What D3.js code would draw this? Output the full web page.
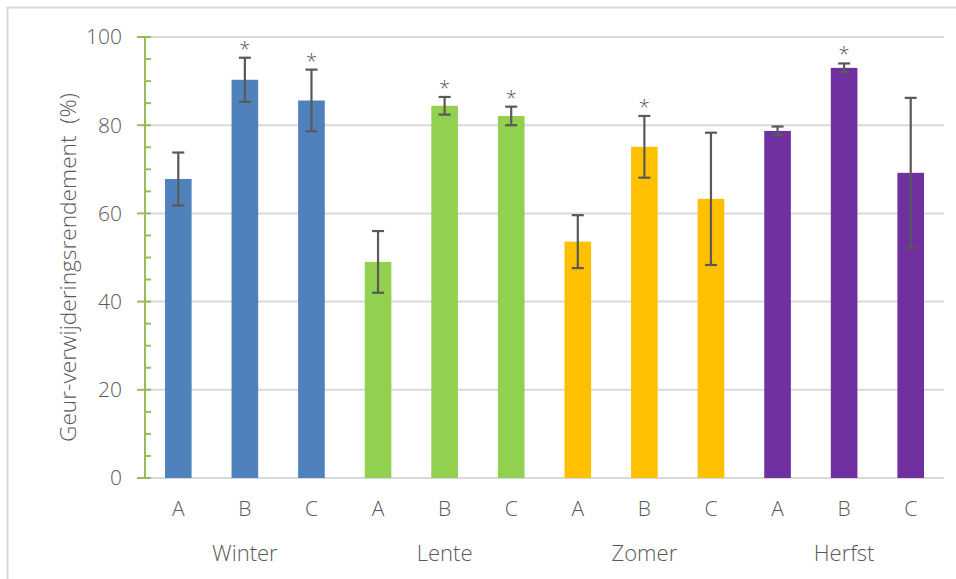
<!DOCTYPE html>
<html>
<head>
<meta charset="utf-8">
<script src="https://cdn.jsdelivr.net/npm/d3@7"></script>
<style>
  html, body { margin: 0; padding: 0; background: #fff; }
  svg { display: block; font-family: "Open Sans", "Noto Sans", sans-serif; }
</style>
</head>
<body>
<svg id="chart" width="956" height="579"></svg>
<script>
// Seasons and methods
const seasons = ["Winter", "Lente", "Zomer", "Herfst"];
const methods = ["A", "B", "C"];
const seasonColors = ["#4f81bd", "#92d050", "#ffc000", "#7030a0"];

// Mean odour removal efficiency (%) per season, methods A-B-C
const winterValues = [67.8, 90.3, 85.6];
const lenteValues  = [49.0, 84.4, 82.1];
const zomerValues  = [53.6, 75.1, 63.3];
const herfstValues = [78.7, 93.0, 69.2];

// Error bar half-widths (%)
const winterErr = [6.0, 5.0, 7.0];
const lenteErr  = [7.0, 2.0, 2.1];
const zomerErr  = [6.0, 7.0, 15.0];
const herfstErr = [1.0, 1.0, 17.0];

// Significance marks
const winterSig = [false, true, true];
const lenteSig  = [false, true, true];
const zomerSig  = [false, true, false];
const herfstSig = [false, true, false];

const yTicks = [0, 20, 40, 60, 80, 100];
const yMinorTicks = d3.range(0, 101, 5);
const yTitle = "Geur-verwijderingsrendement  (%)";

const allValues = [winterValues, lenteValues, zomerValues, herfstValues];
const allErr = [winterErr, lenteErr, zomerErr, herfstErr];
const allSig = [winterSig, lenteSig, zomerSig, herfstSig];

const rows = [];
seasons.forEach((s, si) => {
  methods.forEach((m, mi) => {
    rows.push({
      key: s + "-" + m, season: s, si, method: m,
      value: allValues[si][mi], err: allErr[si][mi], sig: allSig[si][mi]
    });
  });
});

const svg = d3.select("#chart");
const W = 956, H = 579;
const plot = { left: 145, right: 944, top: 37, bottom: 478 };

const textColor = "#595959";

// Outer frame
svg.append("rect")
  .attr("x", 7.5).attr("y", 7.5)
  .attr("width", W + 10).attr("height", H + 10)
  .attr("fill", "none").attr("stroke", "#d9d9d9").attr("stroke-width", 2);

const x = d3.scaleBand()
  .domain(rows.map(d => d.key))
  .range([plot.left, plot.right])
  .paddingInner(0.6).paddingOuter(0.3);

const y = d3.scaleLinear().domain([0, 100]).range([plot.bottom, plot.top]);

// Gridlines
svg.append("g")
  .selectAll("line")
  .data(yTicks)
  .join("line")
  .attr("x1", plot.left).attr("x2", plot.right)
  .attr("y1", d => y(d)).attr("y2", d => y(d))
  .attr("stroke", "#d9d9d9").attr("stroke-width", 2);

// Bars
svg.append("g")
  .selectAll("rect")
  .data(rows)
  .join("rect")
  .attr("x", d => x(d.key))
  .attr("width", x.bandwidth())
  .attr("y", d => y(d.value))
  .attr("height", d => y(0) - y(d.value))
  .attr("fill", d => seasonColors[d.si]);

// Error bars
const eb = svg.append("g").attr("stroke", "#595959").attr("stroke-width", 2.2);
const cx = d => x(d.key) + x.bandwidth() / 2;
eb.selectAll("line.v")
  .data(rows).join("line").attr("class", "v")
  .attr("x1", cx).attr("x2", cx)
  .attr("y1", d => y(d.value + d.err)).attr("y2", d => y(d.value - d.err));
eb.selectAll("line.t")
  .data(rows).join("line").attr("class", "t")
  .attr("x1", d => cx(d) - 6).attr("x2", d => cx(d) + 6)
  .attr("y1", d => y(d.value + d.err)).attr("y2", d => y(d.value + d.err));
eb.selectAll("line.b")
  .data(rows).join("line").attr("class", "b")
  .attr("x1", d => cx(d) - 6).attr("x2", d => cx(d) + 6)
  .attr("y1", d => y(d.value - d.err)).attr("y2", d => y(d.value - d.err));

// Significance asterisks
svg.append("g")
  .selectAll("text")
  .data(rows.filter(d => d.sig))
  .join("text")
  .attr("x", cx)
  .attr("y", d => y(d.value + d.err) - 2)
  .attr("text-anchor", "middle")
  .attr("fill", textColor)
  .attr("font-size", 20)
  .attr("font-weight", 300)
  .text("*");

// Y axis
const axisColor = "#9bbb59";
const ya = svg.append("g");
ya.append("line")
  .attr("x1", plot.left).attr("x2", plot.left)
  .attr("y1", y(0)).attr("y2", y(100))
  .attr("stroke", axisColor).attr("stroke-width", 2);
ya.selectAll("line.minor")
  .data(yMinorTicks.filter(t => !yTicks.includes(t)))
  .join("line").attr("class", "minor")
  .attr("x1", plot.left).attr("x2", plot.left + 6)
  .attr("y1", d => y(d)).attr("y2", d => y(d))
  .attr("stroke", axisColor).attr("stroke-width", 2);
ya.selectAll("line.major")
  .data(yTicks)
  .join("line").attr("class", "major")
  .attr("x1", plot.left - 8).attr("x2", plot.left + 6)
  .attr("y1", d => y(d)).attr("y2", d => y(d))
  .attr("stroke", axisColor).attr("stroke-width", 2);
ya.selectAll("text")
  .data(yTicks)
  .join("text")
  .attr("x", 122)
  .attr("y", d => y(d))
  .attr("dy", "0.35em")
  .attr("text-anchor", "end")
  .attr("fill", textColor)
  .attr("font-size", 21)
  .attr("font-weight", 300)
  .text(d => d);

// Y axis title
svg.append("text")
  .attr("transform", `translate(76,${(y(0) + y(100)) / 2 + 10}) rotate(-90)`)
  .attr("text-anchor", "middle")
  .attr("fill", textColor)
  .attr("font-size", 22.7)
  .attr("font-weight", 300)
  .attr("xml:space", "preserve")
  .text(yTitle);

// Method labels
svg.append("g")
  .selectAll("text")
  .data(rows)
  .join("text")
  .attr("x", cx)
  .attr("y", 509)
  .attr("dy", "0.35em")
  .attr("text-anchor", "middle")
  .attr("fill", textColor)
  .attr("font-size", 21)
  .attr("font-weight", 300)
  .text(d => d.method);

// Season labels
svg.append("g")
  .selectAll("text")
  .data(seasons)
  .join("text")
  .attr("x", (s, i) => cx(rows[i * 3 + 1]))
  .attr("y", 553)
  .attr("dy", "0.35em")
  .attr("text-anchor", "middle")
  .attr("fill", textColor)
  .attr("font-size", 22)
  .attr("font-weight", 300)
  .text(d => d);
</script>
</body>
</html>
